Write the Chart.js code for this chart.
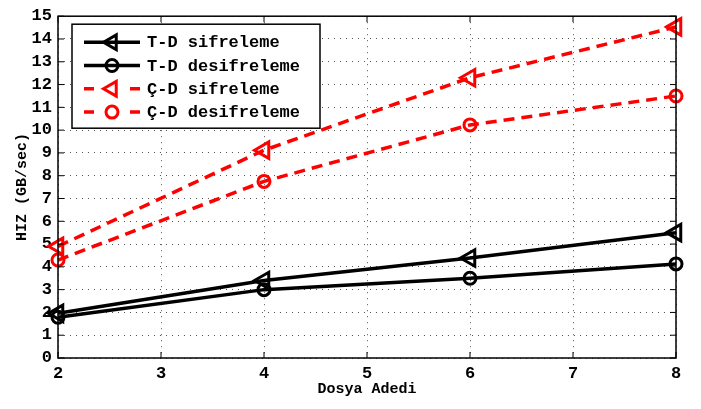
<!DOCTYPE html>
<html>
<head>
<meta charset="utf-8">
<script src="https://cdn.jsdelivr.net/npm/chart.js@4"></script>
<style>
  html, body { margin: 0; padding: 0; background: #fff; }
  #wrap { width: 701px; height: 409px; }
</style>
</head>
<body>
<div id="wrap"><canvas id="myChart" width="701" height="409"></canvas></div>
<script>
const fileCounts = [2, 4, 6, 8];
const tdEnc = [1.96, 3.4, 4.39, 5.5];
const tdDec = [1.79, 3.0, 3.5, 4.13];
const cdEnc = [4.9, 9.12, 12.3, 14.53];
const cdDec = [4.3, 7.75, 10.23, 11.5];
const seriesNames = ['T-D sifreleme', 'T-D desifreleme', 'Ç-D sifreleme', 'Ç-D desifreleme'];

const FONT = "'Liberation Mono', 'DejaVu Sans Mono', monospace";

function pts(ys) {
    return fileCounts.map((x, i) => ({ x: x, y: ys[i] }));
}

function makeSet(label, ys, color, dashed, style) {
    return {
        label: label,
        data: pts(ys),
        borderColor: color,
        backgroundColor: 'transparent',
        borderWidth: 3.5,
        borderDash: dashed ? [11, 7] : [],
        pointStyle: style,
        rotation: style === 'triangle' ? -90 : 0,
        pointRadius: style === 'triangle' ? 9.5 : 6,
        pointBorderWidth: 3,
        pointBorderColor: color,
        pointBackgroundColor: 'transparent',
        clip: false,
        tension: 0
    };
}

// MATLAB style frame, inward ticks and a legend inside the plot
const framePlugin = {
    id: 'frame',
    afterDraw(chart) {
        const ctx = chart.ctx;
        const a = chart.chartArea;
        const xs = chart.scales.x, ys = chart.scales.y;
        ctx.save();
        ctx.strokeStyle = '#000';
        ctx.lineWidth = 1.5;
        ctx.strokeRect(a.left, a.top, a.right - a.left, a.bottom - a.top);
        ctx.lineWidth = 1;
        ctx.beginPath();
        xs.ticks.forEach(t => {
            const px = xs.getPixelForValue(t.value);
            ctx.moveTo(px, a.bottom); ctx.lineTo(px, a.bottom - 6);
            ctx.moveTo(px, a.top); ctx.lineTo(px, a.top + 6);
        });
        ys.ticks.forEach(t => {
            const py = ys.getPixelForValue(t.value);
            ctx.moveTo(a.left, py); ctx.lineTo(a.left + 6, py);
            ctx.moveTo(a.right, py); ctx.lineTo(a.right - 6, py);
        });
        ctx.stroke();

        // legend
        const bx = a.left + 14, by = a.top + 8, bw = 248, bh = 104;
        ctx.fillStyle = '#fff';
        ctx.fillRect(bx, by, bw, bh);
        ctx.strokeStyle = '#000';
        ctx.lineWidth = 1.5;
        ctx.strokeRect(bx, by, bw, bh);
        chart.data.datasets.forEach((ds, i) => {
            const ry = by + 18 + i * 23.3;
            const x0 = bx + 12, x1 = bx + 68, xm = bx + 40;
            ctx.strokeStyle = ds.borderColor;
            ctx.lineWidth = 3.5;
            ctx.setLineDash([]);
            ctx.beginPath();
            if (ds.borderDash.length) {
                ctx.moveTo(x0, ry); ctx.lineTo(x0 + 10, ry);
                ctx.moveTo(x1 - 10, ry); ctx.lineTo(x1, ry);
            } else {
                ctx.moveTo(x0, ry); ctx.lineTo(x1, ry);
            }
            ctx.stroke();
            ctx.lineWidth = ds.pointBorderWidth;
            ctx.fillStyle = 'rgba(0,0,0,0)';
            Chart.helpers.drawPoint(ctx, {
                pointStyle: ds.pointStyle,
                rotation: ds.rotation,
                radius: ds.pointStyle === 'triangle' ? 8.5 : 6,
                borderWidth: ds.pointBorderWidth
            }, xm, ry);
            ctx.fillStyle = '#000';
            ctx.font = 'bold 17px ' + FONT;
            ctx.textAlign = 'left';
            ctx.textBaseline = 'middle';
            ctx.fillText(ds.label, bx + 75, ry + 1);
        });
        ctx.restore();
    }
};

const data = {
    datasets: [
        makeSet(seriesNames[0], tdEnc, '#000000', false, 'triangle'),
        makeSet(seriesNames[1], tdDec, '#000000', false, 'circle'),
        makeSet(seriesNames[2], cdEnc, '#ff0000', true, 'triangle'),
        makeSet(seriesNames[3], cdDec, '#ff0000', true, 'circle')
    ]
};

const gridStyle = {
    color: '#555',
    lineWidth: 1,
    tickLength: 0,
    drawTicks: false
};

const config = {
    type: 'line',
    data: data,
    options: {
        responsive: false,
        animation: false,
        layout: {
            padding: { top: 6, right: 25, left: 13, bottom: 11 }
        },
        scales: {
            x: {
                type: 'linear',
                min: 2,
                max: 8,
                border: { display: false, dash: [1, 5] },
                grid: gridStyle,
                ticks: {
                    stepSize: 1,
                    autoSkip: false,
                    maxRotation: 0,
                    color: '#000',
                    padding: 6,
                    font: { family: FONT, weight: 'bold', size: 17 }
                },
                title: {
                    display: true,
                    text: 'Dosya Adedi',
                    color: '#000',
                    padding: { top: 0, bottom: 0 },
                    font: { family: FONT, weight: 'bold', size: 15 }
                },
                afterFit(scale) { scale.height = 40; }
            },
            y: {
                min: 0,
                max: 15,
                border: { display: false, dash: [1, 5] },
                grid: gridStyle,
                ticks: {
                    stepSize: 1,
                    autoSkip: false,
                    color: '#000',
                    padding: 6,
                    font: { family: FONT, weight: 'bold', size: 17 }
                },
                title: {
                    display: true,
                    text: 'HIZ (GB/sec)',
                    color: '#000',
                    padding: { top: 0, bottom: 0 },
                    font: { family: FONT, weight: 'bold', size: 15 }
                },
                afterFit(scale) { scale.width = 45; }
            }
        },
        plugins: {
            legend: { display: false },
            tooltip: { enabled: false }
        }
    },
    plugins: [framePlugin]
};

const context = document.getElementById('myChart').getContext('2d');
const myChart = new Chart(context, config);
</script>
</body>
</html>
